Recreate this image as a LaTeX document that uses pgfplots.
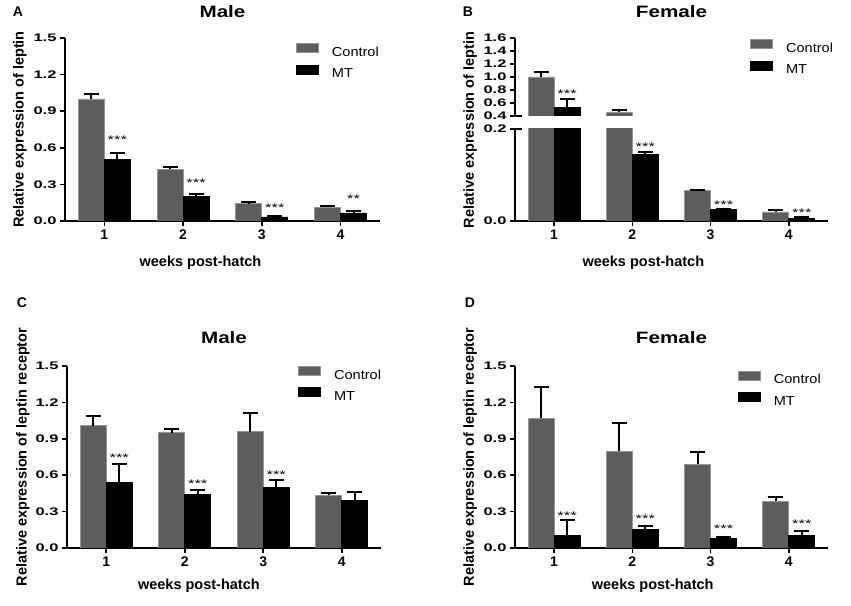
\documentclass[border=0pt]{standalone}
\usepackage{fontspec}
\setmainfont{Liberation Sans}
\newfontfamily\wideA{Liberation Sans}[FakeStretch=1.5]
\newfontfamily\wideT{Liberation Sans}[FakeStretch=1.25]
\newfontfamily\wideL{Liberation Sans}[FakeStretch=1.12]
\usepackage{pgfplots}
\usepackage{pgfplotstable}
\pgfplotsset{compat=1.18}
\definecolor{ctrl}{RGB}{93,93,93}
\definecolor{ctrledge}{RGB}{150,150,150}

% Panel A
\pgfplotstableread{
x y e
1 1.000 0.040
2 0.424 0.016
3 0.142 0.011
4 0.112 0.011
}\AC
\pgfplotstableread{
x y e
1 0.506 0.052
2 0.203 0.021
3 0.033 0.008
4 0.066 0.016
}\AM
% Panel B
\pgfplotstableread{
x y e
1 1.000 0.080
2 0.460 0.025
3 0.066 0.002
4 0.0196 0.004
}\BC
\pgfplotstableread{
x y e
1 0.530 0.125
2 0.1447 0.006
3 0.0247 0.002
4 0.0058 0.002
}\BM
% Panel C
\pgfplotstableread{
x y e
1 1.009 0.080
2 0.949 0.030
3 0.960 0.150
4 0.433 0.023
}\CC
\pgfplotstableread{
x y e
1 0.540 0.150
2 0.444 0.034
3 0.500 0.060
4 0.392 0.070
}\CM
% Panel D
\pgfplotstableread{
x y e
1 1.069 0.255
2 0.798 0.230
3 0.691 0.097
4 0.384 0.036
}\DC
\pgfplotstableread{
x y e
1 0.104 0.123
2 0.156 0.024
3 0.077 0.015
4 0.104 0.038
}\DM

\tikzset{star/.style={font=\wideA\fontsize{11}{12}\selectfont, anchor=base, yshift=-6.3pt, xshift=13pt, inner sep=0pt}}

\pgfplotsset{
 panel/.style={
  scale only axis,
  axis x line*=bottom, axis y line*=left,
  axis line style={line width=1.6pt, black},
  xmin=0.5, xmax=4.5, xtick={1,2,3,4},
  tick align=outside, major tick length=5pt,
  major tick style={line width=1.6pt, black},
  ybar=0pt, bar width=26pt,
  ymin=0,
  /pgf/number format/assume math mode=true,
  yticklabel style={font=\wideA\bfseries\fontsize{11}{12}\selectfont, /pgf/number format/.cd, fixed, fixed zerofill, precision=1},
  xticklabel style={font=\bfseries\fontsize{14}{16}\selectfont},
  label style={font=\bfseries\fontsize{14.5}{16}\selectfont},
  title style={font=\wideT\bfseries\fontsize{16.5}{18}\selectfont, anchor=base},
  legend style={draw=none, fill=none, inner sep=0pt, row sep=5.5pt, column sep=12pt, font=\wideL\fontsize{13}{14}\selectfont, nodes={inner sep=1pt}},
  legend cell align=left,
  legend image code/.code={\draw[#1] (0pt,0pt) rectangle (22pt,9pt);},
 },
 ctrlbar/.style={fill=ctrl, draw=ctrledge, line width=0.8pt,
   error bars/.cd, y dir=plus, y explicit,
   error bar style={line width=2pt, black},
   error mark options={line width=2pt, black, mark size=7.5pt, rotate=90}},
 mtbar/.style={fill=black, draw=black, line width=0.8pt,
   error bars/.cd, y dir=plus, y explicit,
   error bar style={line width=2pt, black},
   error mark options={line width=2pt, black, mark size=7.5pt, rotate=90}},
}

\begin{document}
\begin{tikzpicture}[x=1pt,y=1pt]
\useasboundingbox[fill=white] (0,0) rectangle (851,605);

% ---------------- A ----------------
\begin{axis}[panel, at={(65pt,384pt)}, anchor=south west, width=315pt, height=183pt,
  ymax=1.5, ytick={0,0.3,0.6,0.9,1.2,1.5},
  title={Male}, title style={yshift=14pt},
  ylabel={Relative expression of leptin}, xlabel={weeks post-hatch},
  ylabel style={at={(axis description cs:0,0.5)}, anchor=center, yshift=45pt},
  xlabel style={at={(axis description cs:0.43,0)}, anchor=center, yshift=-42pt},
  legend style={at={(axis description cs:0.733,0.972)}, anchor=north west}]
\addplot[ctrlbar] table[x=x,y=y,y error=e]{\AC};
\addplot[mtbar] table[x=x,y=y,y error=e]{\AM};
\legend{Control,MT}
\node[star] at (axis cs:1,0.69) {***};
\node[star] at (axis cs:2,0.337) {***};
\node[star] at (axis cs:3,0.13) {***};
\node[star] at (axis cs:4,0.20) {**};
\end{axis}

% ---------------- B upper ----------------
\begin{axis}[panel, name=Bup, at={(515pt,489pt)}, anchor=south west, width=313pt, height=78pt,
  axis x line=none, axis y line*=left,
  ymin=0.4, ymax=1.6, ytick={0.4,0.6,0.8,1.0,1.2,1.4,1.6},
  unbounded coords=discard,
  title={Female}, title style={yshift=14pt},
  ylabel={Relative expression of leptin},
  ylabel style={at={(axis description cs:0,-0.18)}, anchor=center, yshift=45pt},
  legend style={at={(axis description cs:0.751,0.985)}, anchor=north west}]
\addplot[restrict y to domain=0.4:10, ctrlbar] table[x=x,y=y,y error=e]{\BC};
\addplot[restrict y to domain=0.4:10, mtbar] table[x=x,y=y,y error=e]{\BM};
\legend{Control,MT}
\node[star] at (axis cs:1,0.776) {***};
\end{axis}
% ---------------- B lower ----------------
\begin{axis}[panel, name=Blo, at={(515pt,384pt)}, anchor=south west, width=313pt, height=92pt,
  ymin=0, ymax=0.2, ytick={0,0.2},
  xlabel={weeks post-hatch},
  xlabel style={at={(axis description cs:0.41,0)}, anchor=center, yshift=-42pt}]
\addplot[ctrlbar] table[x=x,y=y,y error=e]{\BC};
\addplot[mtbar] table[x=x,y=y,y error=e]{\BM};
\node[star] at (axis cs:2,0.167) {***};
\node[star] at (axis cs:3,0.041) {***};
\node[star] at (axis cs:4,0.024) {***};
\end{axis}
\draw[line width=1.6pt] (Bup.south west) -- ++(7pt,0);
\draw[line width=1.6pt] (Blo.north west) -- ++(7pt,0);

% ---------------- C ----------------
\begin{axis}[panel, at={(67pt,57pt)}, anchor=south west, width=314pt, height=182pt,
  ymax=1.5, ytick={0,0.3,0.6,0.9,1.2,1.5},
  title={Male}, title style={yshift=16pt},
  ylabel={Relative expression of leptin receptor}, xlabel={weeks post-hatch},
  ylabel style={at={(axis description cs:0,0.5)}, anchor=center, yshift=44pt},
  xlabel style={at={(axis description cs:0.42,0)}, anchor=center, yshift=-38pt},
  legend style={at={(axis description cs:0.736,1.003)}, anchor=north west}]
\addplot[ctrlbar] table[x=x,y=y,y error=e]{\CC};
\addplot[mtbar] table[x=x,y=y,y error=e]{\CM};
\legend{Control,MT}
\node[star] at (axis cs:1,0.762) {***};
\node[star] at (axis cs:2,0.548) {***};
\node[star] at (axis cs:3,0.625) {***};
\end{axis}

% ---------------- D ----------------
\begin{axis}[panel, at={(515pt,57pt)}, anchor=south west, width=313pt, height=182pt,
  ymax=1.5, ytick={0,0.3,0.6,0.9,1.2,1.5},
  title={Female}, title style={yshift=16pt},
  ylabel={Relative expression of leptin receptor}, xlabel={weeks post-hatch},
  ylabel style={at={(axis description cs:0,0.5)}, anchor=center, yshift=45pt},
  xlabel style={at={(axis description cs:0.44,0)}, anchor=center, yshift=-38pt},
  legend style={at={(axis description cs:0.712,0.976)}, anchor=north west}]
\addplot[ctrlbar] table[x=x,y=y,y error=e]{\DC};
\addplot[mtbar] table[x=x,y=y,y error=e]{\DM};
\legend{Control,MT}
\node[star] at (axis cs:1,0.288) {***};
\node[star] at (axis cs:2,0.266) {***};
\node[star] at (axis cs:3,0.178) {***};
\node[star] at (axis cs:4,0.219) {***};
\end{axis}

% panel letters
\node[font=\bfseries\fontsize{14}{16}\selectfont] at (18,593) {A};
\node[font=\bfseries\fontsize{14}{16}\selectfont] at (468,593) {B};
\node[font=\bfseries\fontsize{14}{16}\selectfont] at (22,302) {C};
\node[font=\bfseries\fontsize{14}{16}\selectfont] at (470,302) {D};
\end{tikzpicture}
\end{document}
